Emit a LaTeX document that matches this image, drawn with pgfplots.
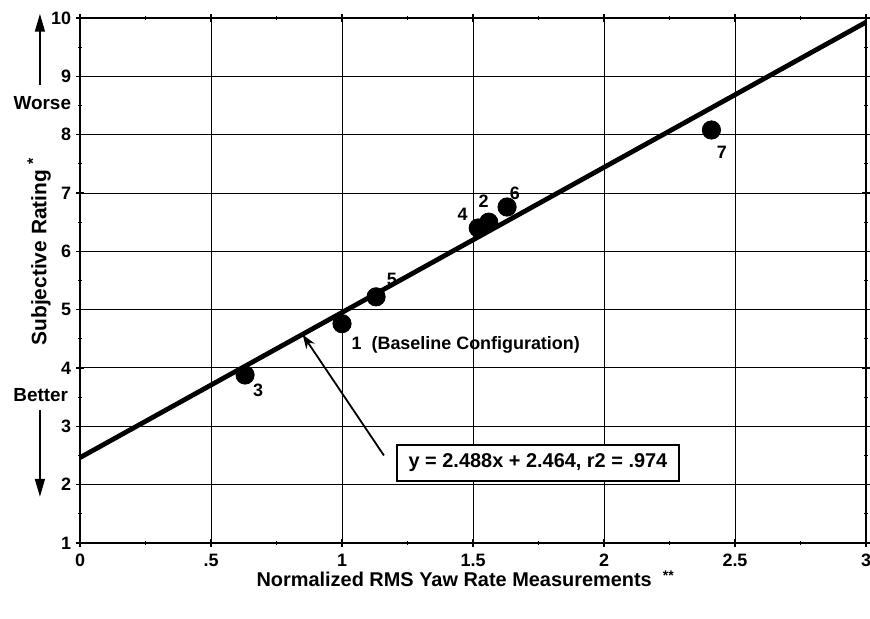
\documentclass[border=0pt]{standalone}
\usepackage{fontspec}
\setmainfont{Liberation Sans}
\usepackage{pgfplots}
\pgfplotsset{compat=1.18}
\usetikzlibrary{arrows.meta}

\begin{document}
\begin{tikzpicture}
\begin{axis}[
  name=ax,
  scale only axis,
  width=393bp, height=262.5bp,
  xmin=0, xmax=3, ymin=1, ymax=10,
  xtick={0,0.5,1,1.5,2,2.5,3},
  xticklabels={0,.5,1,1.5,2,2.5,3},
  ytick={1,2,...,10},
  minor x tick num=1, minor y tick num=1,
  grid=major,
  major grid style={black, line width=0.5pt},
  axis line style={line width=1pt},
  tick style={black, line width=0.6pt},
  major tick length=4pt, minor tick length=2pt,
  tick align=center,
  ticklabel style={font=\fontsize{9}{10}\selectfont\bfseries},
  /pgf/number format/assume math mode=true,
  xticklabel style={yshift=0pt},
  yticklabel style={xshift=1pt},
  clip=false,
]

% regression line y = 2.488x + 2.464
\addplot[black, line width=2.4pt] coordinates {(0,2.464) (3,9.928)};

% measured configurations
\addplot[only marks, mark=*, mark size=4.6pt, black] coordinates {
  (1.00,4.76) (1.56,6.50) (0.63,3.88) (1.52,6.40) (1.13,5.22) (1.63,6.76) (2.41,8.08)
};

\begin{scope}[font=\fontsize{9}{10}\selectfont\bfseries]
\node[anchor=west] at (axis cs:1.01,4.40) {1\ \ (Baseline Configuration)};
\node at (axis cs:1.54,6.86) {2};
\node at (axis cs:0.68,3.62) {3};
\node at (axis cs:1.46,6.64) {4};
\node at (axis cs:1.19,5.51) {5};
\node at (axis cs:1.66,7.00) {6};
\node at (axis cs:2.45,7.70) {7};
\end{scope}

\draw[line width=0.9pt, -{Stealth[length=7pt,width=5pt]}] (axis cs:1.16,2.50) -- (axis cs:0.85,4.57);
\node[draw, line width=0.9pt, fill=white, inner xsep=6pt, inner ysep=4.5pt,
      font=\fontsize{10}{11}\selectfont\bfseries] at (axis cs:1.748,2.37)
  {y = 2.488x + 2.464, r2 = .974};

% axis titles
\node[rotate=90, font=\fontsize{10.5}{12}\selectfont\bfseries] at (rel axis cs:-0.052,0.555) {Subjective Rating \raisebox{4pt}{\fontsize{8}{8}\selectfont *}};
\node[font=\fontsize{9.5}{10}\selectfont\bfseries] at (rel axis cs:-0.048,0.838) {Worse};
\node[font=\fontsize{9.5}{10}\selectfont\bfseries] at (rel axis cs:-0.050,0.282) {Better};
\draw[line width=0.8pt, -{Triangle[length=9pt,width=5pt]}] (rel axis cs:-0.051,0.872) -- (rel axis cs:-0.051,1.008);
\draw[line width=0.8pt, -{Triangle[length=9pt,width=5pt]}] (rel axis cs:-0.051,0.253) -- (rel axis cs:-0.051,0.088);
\node[font=\fontsize{10}{12}\selectfont\bfseries] at (rel axis cs:0.49,-0.069) {Normalized RMS Yaw Rate Measurements\ \ \raisebox{3pt}{\fontsize{7}{7}\selectfont **}};

\coordinate (bl) at (rel axis cs:-0.1018,-0.1429);
\coordinate (tr) at (rel axis cs:1.0051,1.0343);
\end{axis}
\pgfresetboundingbox
\path[use as bounding box] (bl) rectangle (tr);
\end{tikzpicture}
\end{document}
